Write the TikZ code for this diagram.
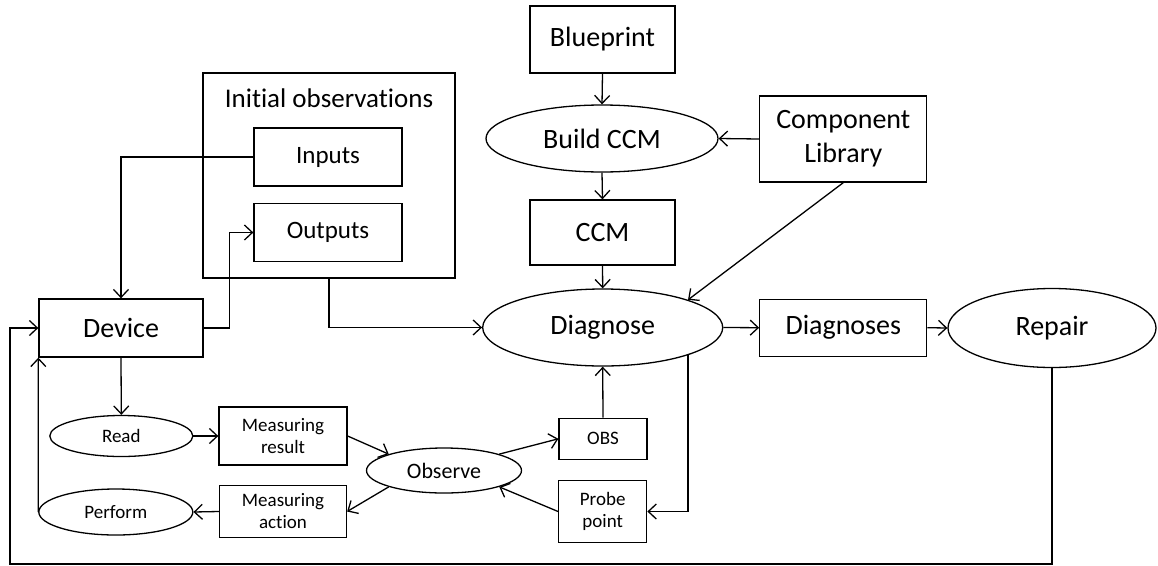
\documentclass[tikz,border=0pt]{standalone}
\usepackage{fontspec}
\setmainfont[Ligatures=NoCommon]{Carlito}
\usetikzlibrary{arrows.meta,shapes.geometric}
\tikzset{
  box/.style={draw, line width=1.3pt, rectangle, inner sep=0pt, align=center},
  oval/.style={draw, line width=1.3pt, ellipse, inner sep=0pt, align=center},
  big/.style={font=\fontsize{28}{34}\selectfont},
  mid/.style={font=\fontsize{25}{30}\selectfont},
  obsfont/.style={font=\fontsize{22}{26}\selectfont},
  small/.style={font=\fontsize{19}{22}\selectfont},
  arr/.style={line width=1.3pt, -{Straight Barb[length=8pt,width=15pt,line width=1.3pt]}},
  ln/.style={line width=1.3pt}
}
\begin{document}
\begin{tikzpicture}[x=1pt,y=-1pt]
\useasboundingbox (0,0) rectangle (1158,565);

% model construction
\node[box,big,minimum width=145,minimum height=67] (bp) at (602.5,39.5) {Blueprint};
\node[oval,big,minimum width=232,minimum height=67] (build) at (602,138.5) {Build CCM};
\node[box,big,minimum width=167,minimum height=86] (cl) at (843.3,139) {Component\\Library};
\node[box,big,minimum width=145,minimum height=65] (ccm) at (602.5,232.5) {CCM};

% diagnosis and repair
\node[oval,big,minimum width=240,minimum height=77] (diag) at (602.7,327.5) {Diagnose};
\node[box,big,minimum width=167,minimum height=57] (dgs) at (843.3,327.7) {Diagnoses};
\node[oval,big,minimum width=208,minimum height=79] (rep) at (1052,328) {Repair};

% initial observations group
\node[box,minimum width=252,minimum height=205] (init) at (329,175.5) {};
\node[font=\fontsize{27}{32}\selectfont,inner sep=0pt] (inittitle) at (329,98) {Initial observations};
\node[box,mid,minimum width=148,minimum height=58] (inp) at (328,157) {Inputs};
\node[box,mid,minimum width=148,minimum height=58] (outp) at (328,232.5) {Outputs};

% device and measuring loop
\node[box,big,minimum width=164,minimum height=58] (dev) at (121,328) {Device};
\node[oval,small,minimum width=143,minimum height=41] (read) at (121.3,436) {Read};
\node[box,small,minimum width=128,minimum height=58] (mr) at (283,436) {Measuring\\result};
\node[box,small,minimum width=127,minimum height=52] (ma) at (283,511.5) {Measuring\\action};
\node[oval,small,minimum width=154,minimum height=46] (perf) at (115.8,512) {Perform};
\node[oval,obsfont,minimum width=155,minimum height=45] (obs) at (444,470.5) {Observe};
\node[box,small,minimum width=88,minimum height=41] (obsb) at (603,438.8) {OBS};
\node[box,small,minimum width=88,minimum height=62] (pp) at (602.7,511.5) {Probe\\point};

\coordinate (loop) at (10,564);

% connectors
\draw[arr] (bp.south) -- (build.north);
\draw[arr] (build.south) -- (ccm.north);
\draw[arr] (cl.west) -- (build.east);
\draw[arr] (ccm.south) -- (diag.north);
\draw[arr] (cl.south) -- (diag.north east);
\draw[arr] (diag.east) -- (dgs.west);
\draw[arr] (dgs.east) -- (rep.west);
\draw[arr] (rep.south) |- (loop) |- (dev.west);
\draw[arr] (inp.west) -| (dev.north);
\draw[arr] (dev.east) -- ++(26,0) |- (outp.west);
\draw[arr] (init.south) |- (diag.west);
\draw[arr] (dev.south) -- (read.north);
\draw[arr] (read.east) -- (mr.west);
\draw[arr] (mr.east) -- (obs.north west);
\draw[arr] (obs.south west) -- (ma.east);
\draw[arr] (ma.west) -- (perf.east);
\draw[arr] (perf.west) -- (dev.south west);
\draw[arr] (obs.north east) -- (obsb.west);
\draw[arr] (obsb.north) -- (diag.south);
\draw[arr] (diag.south east) |- (pp.east);
\draw[arr] (pp.west) -- (obs.south east);
\end{tikzpicture}
\end{document}
